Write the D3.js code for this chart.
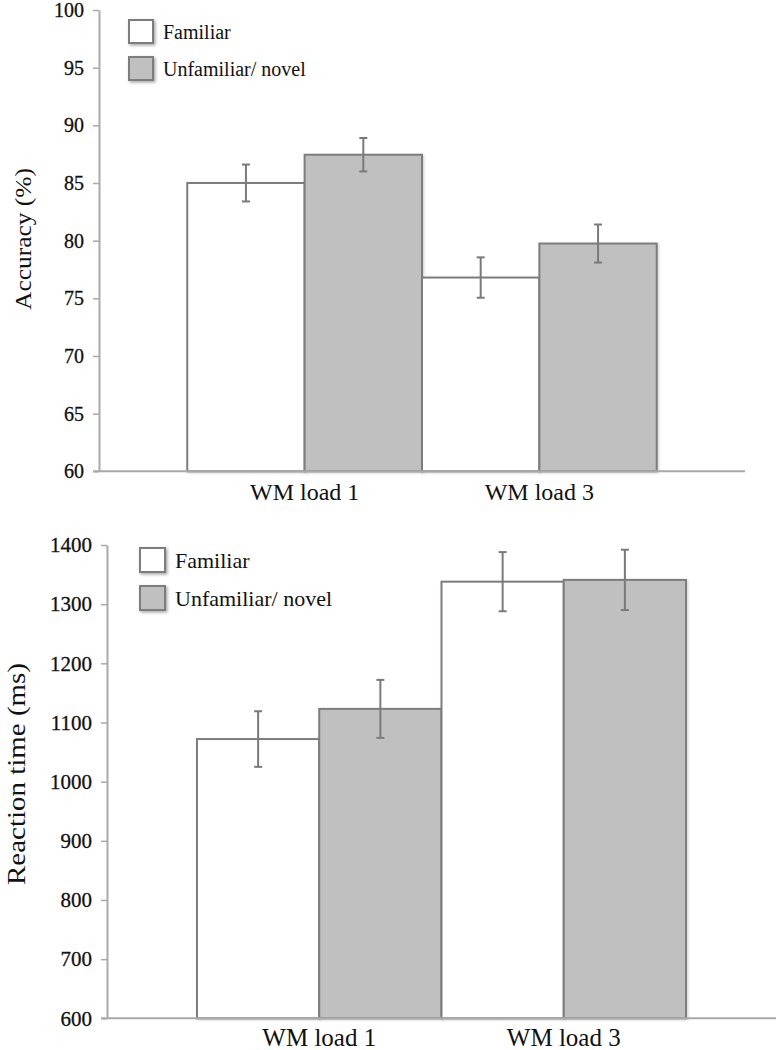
<!DOCTYPE html>
<html>
<head>
<meta charset="utf-8">
<script src="https://cdn.jsdelivr.net/npm/d3@7/dist/d3.min.js"></script>
<style>
  html, body { margin: 0; padding: 0; background: #fff; }
  svg { display: block; }
  svg text { font-family: "Liberation Serif", "Times New Roman", Times, serif !important; fill: #111; }
</style>
</head>
<body>
<svg id="chart" width="777" height="1050" font-family="Liberation Serif"></svg>
<script>
// ---- Data ----
const categories = ["WM load 1", "WM load 3"];
const seriesNames = ["Familiar", "Unfamiliar/ novel"];

const accuracyFamiliar = [85.0, 76.8];
const accuracyNovel = [87.45, 79.75];
const accuracyErrFamiliar = [1.6, 1.75];
const accuracyErrNovel = [1.45, 1.65];
const accuracyTicks = [60, 65, 70, 75, 80, 85, 90, 95, 100];

const rtFamiliar = [1072, 1338];
const rtNovel = [1123, 1341];
const rtErrFamiliar = [47, 50];
const rtErrNovel = [49, 51];
const rtTicks = [600, 700, 800, 900, 1000, 1100, 1200, 1300, 1400];

const seriesFill = ["#ffffff", "#c0c0c0"];

// ---- Drawing ----
const svg = d3.select("#chart");
const defs = svg.append("defs");
const f = defs.append("filter").attr("id", "shadow")
  .attr("x", "-20%").attr("y", "-20%").attr("width", "150%").attr("height", "150%");
f.append("feDropShadow").attr("dx", 1.5).attr("dy", 1.5).attr("stdDeviation", 1.5)
  .attr("flood-color", "#000").attr("flood-opacity", 0.35);
const fb = defs.append("filter").attr("id", "barshadow")
  .attr("x", "-5%").attr("y", "-5%").attr("width", "115%").attr("height", "115%");
fb.append("feDropShadow").attr("dx", 1.2).attr("dy", 1).attr("stdDeviation", 1)
  .attr("flood-color", "#000").attr("flood-opacity", 0.18);

const SERIF = "Liberation Serif, Times New Roman, serif";

function drawPanel(cfg) {
  const g = svg.append("g");
  const y = d3.scaleLinear().domain(cfg.domain).range([cfg.y0, cfg.y1]);
  const x = d3.scaleBand().domain(categories).range([cfg.x0, cfg.x1])
    .paddingInner(0).paddingOuter(cfg.pad);
  const xs = d3.scaleBand().domain(seriesNames).range([0, x.bandwidth()]).padding(0);

  const rows = [];
  categories.forEach((c, i) => {
    rows.push({ c, s: seriesNames[0], v: cfg.fam[i], e: cfg.famErr[i], k: 0 });
    rows.push({ c, s: seriesNames[1], v: cfg.nov[i], e: cfg.novErr[i], k: 1 });
  });
  g.selectAll("rect.bar").data(rows).join("rect")
    .attr("class", "bar")
    .attr("x", d => x(d.c) + xs(d.s))
    .attr("y", d => y(d.v))
    .attr("width", xs.bandwidth())
    .attr("height", d => y(cfg.domain[0]) - y(d.v))
    .attr("fill", d => seriesFill[d.k])
    .attr("stroke", "#7d7d7d")
    .attr("stroke-width", 2)
    .attr("filter", "url(#barshadow)");

  const eb = g.selectAll("g.err").data(rows).join("g").attr("class", "err")
    .attr("stroke", "#7a7a7a").attr("stroke-width", 2);
  const cx = d => x(d.c) + xs(d.s) + xs.bandwidth() / 2;
  eb.append("line").attr("x1", cx).attr("x2", cx)
    .attr("y1", d => y(d.v - d.e)).attr("y2", d => y(d.v + d.e));
  eb.append("line").attr("x1", d => cx(d) - 4).attr("x2", d => cx(d) + 4)
    .attr("y1", d => y(d.v + d.e)).attr("y2", d => y(d.v + d.e));
  eb.append("line").attr("x1", d => cx(d) - 4).attr("x2", d => cx(d) + 4)
    .attr("y1", d => y(d.v - d.e)).attr("y2", d => y(d.v - d.e));

  const ya = g.append("g").attr("transform", `translate(${cfg.x0},0)`)
    .call(d3.axisLeft(y).tickValues(cfg.ticks).tickFormat(d3.format("d"))
      .tickSize(6).tickPadding(9).tickSizeOuter(0));
  ya.attr("font-family", SERIF).attr("font-size", cfg.tickFont);
  ya.select(".domain").attr("stroke", "#a9a9a9").attr("stroke-width", 2);
  ya.selectAll(".tick line").attr("stroke", "#a9a9a9").attr("stroke-width", 1.5);
  ya.selectAll(".tick text").attr("fill", "#111").attr("stroke", "#111").attr("stroke-width", 0.3);

  const xa = g.append("g").attr("transform", `translate(0,${cfg.y0})`)
    .call(d3.axisBottom(x).tickSize(0).tickPadding(cfg.xPad).tickSizeOuter(0));
  xa.attr("font-family", SERIF).attr("font-size", cfg.xFont);
  xa.select(".domain").attr("stroke", "#a9a9a9").attr("stroke-width", 2)
    .attr("d", `M${cfg.x0 - 6},0H${cfg.x1}`);
  xa.selectAll(".tick text").attr("fill", "#111");

  g.append("text")
    .attr("transform", `translate(${cfg.titleX},${cfg.titleY}) rotate(-90)`)
    .attr("text-anchor", "middle")
    .attr("font-family", SERIF)
    .attr("font-size", cfg.titleFont)
    .attr("textLength", cfg.titleLen).attr("lengthAdjust", "spacingAndGlyphs")
    .text(cfg.title);

  const lg = g.append("g");
  seriesNames.forEach((s, i) => {
    lg.append("rect")
      .attr("x", cfg.legX).attr("y", cfg.legY + i * cfg.legStep)
      .attr("width", cfg.legBox).attr("height", cfg.legBox - 1)
      .attr("fill", seriesFill[i]).attr("stroke", "#7d7d7d").attr("stroke-width", 2)
      .attr("filter", "url(#shadow)");
    lg.append("text")
      .attr("x", cfg.legX + cfg.legBox + 10)
      .attr("y", cfg.legY + i * cfg.legStep + cfg.legBox - 5)
      .attr("font-family", SERIF)
      .attr("font-size", cfg.legFont)
      .text(s);
  });
}

drawPanel({
  domain: [60, 100], y0: 471.3, y1: 10, x0: 99, x1: 745, pad: 0.376,
  fam: accuracyFamiliar, nov: accuracyNovel, famErr: accuracyErrFamiliar, novErr: accuracyErrNovel,
  ticks: accuracyTicks, tickFont: 20, xFont: 24, xPad: 12,
  title: "Accuracy (%)", titleX: 31, titleY: 239, titleFont: 24, titleLen: 142,
  legX: 129, legY: 20, legStep: 37, legBox: 24, legFont: 20
});

drawPanel({
  domain: [600, 1400], y0: 1018.3, y1: 545, x0: 107, x1: 776, pad: 0.368,
  fam: rtFamiliar, nov: rtNovel, famErr: rtErrFamiliar, novErr: rtErrNovel,
  ticks: rtTicks, tickFont: 21, xFont: 25, xPad: 10,
  title: "Reaction time (ms)", titleX: 25, titleY: 774, titleFont: 25, titleLen: 222,
  legX: 140, legY: 548, legStep: 38, legBox: 25, legFont: 22
});
</script>
</body>
</html>
